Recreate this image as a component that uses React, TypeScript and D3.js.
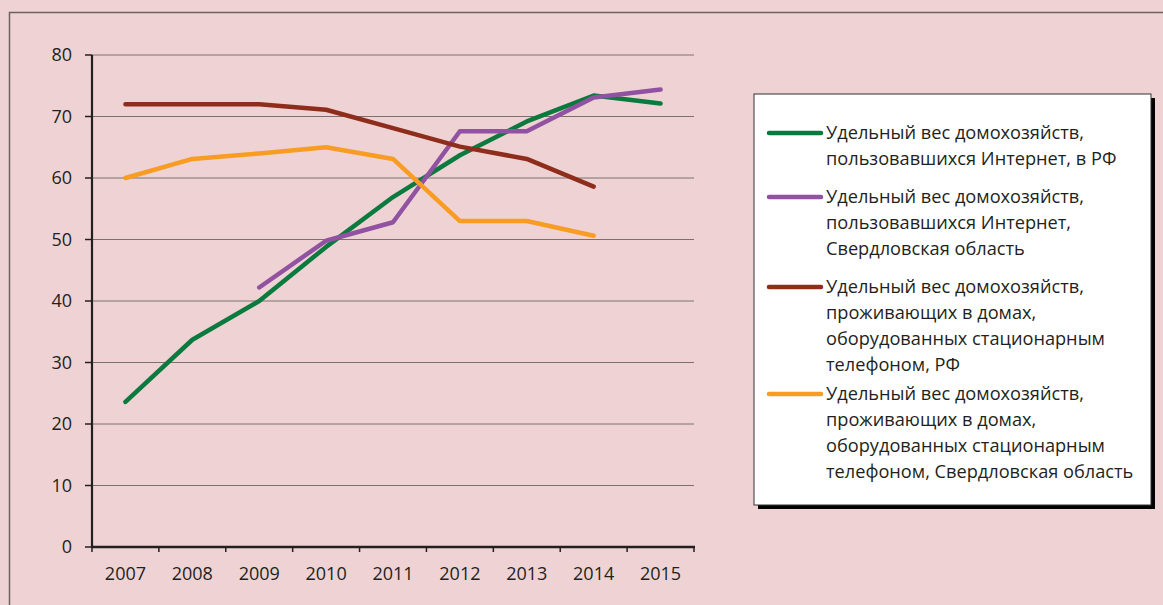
import React from "react";
import * as d3 from "d3";

// years on the x axis
const years = ["2007", "2008", "2009", "2010", "2011", "2012", "2013", "2014", "2015"];
const yTicks = [0, 10, 20, 30, 40, 50, 60, 70, 80];

// values (null = no data)
const internetRF = [23.6, 33.7, 40.0, 48.8, 56.9, 63.7, 69.2, 73.4, 72.1];
const internetSverdl = [null, null, 42.2, 49.8, 52.8, 67.6, 67.6, 73.1, 74.4];
const phoneRF = [72.0, 72.0, 72.0, 71.1, 68.1, 65.1, 63.1, 58.6, null];
const phoneSverdl = [60.0, 63.1, 64.0, 65.0, 63.1, 53.0, 53.0, 50.6, null];

const seriesNames = [
  ["Удельный вес домохозяйств,", "пользовавшихся Интернет, в РФ"],
  ["Удельный вес домохозяйств,", "пользовавшихся Интернет,", "Свердловская область"],
  ["Удельный вес домохозяйств,", "проживающих в домах,", "оборудованных стационарным", "телефоном, РФ"],
  ["Удельный вес домохозяйств,", "проживающих в домах,", "оборудованных стационарным", "телефоном, Свердловская область"],
];
const seriesColors = ["#0b7a3e", "#9152a2", "#8f2d1c", "#f89c24"];
const seriesData = [internetRF, internetSverdl, phoneRF, phoneSverdl];

const FONT = "'Open Sans', sans-serif";

export default function App() {
  const width = 1163;
  const height = 605;

  const x = d3.scaleBand().domain(years).range([92, 694]);
  const y = d3.scaleLinear().domain([0, 80]).range([547, 55]);
  const cx = (yr: string) => (x(yr) as number) + x.bandwidth() / 2;

  const line = d3
    .line<number | null>()
    .defined((d) => d !== null)
    .x((d, i) => cx(years[i]))
    .y((d) => y(d as number));

  const boundaries = years.map((yr) => x(yr) as number).concat([694]);

  // legend layout
  const legX = 754;
  const legY = 94;
  const entryY = [133, 197, 287, 394];
  const lineH = 25.8;

  return (
    <svg width={width} height={height} style={{ position: "absolute", left: 0, top: 0 }}>
      <rect x={0} y={0} width={width} height={height} fill="#efd3d4" />
      <rect x={9.5} y={12.5} width={1170} height={620} fill="none" stroke="#6c6262" strokeWidth={1.5} />

      {/* gridlines */}
      {yTicks.slice(1).map((t) => (
        <line key={t} x1={92} x2={694} y1={y(t)} y2={y(t)} stroke="#7b7070" strokeWidth={1} />
      ))}

      {/* y axis */}
      <line x1={92} x2={92} y1={y(80)} y2={y(0)} stroke="#231f20" strokeWidth={2.2} />
      {yTicks.map((t) => (
        <g key={t}>
          <line x1={85} x2={92} y1={y(t)} y2={y(t)} stroke="#231f20" strokeWidth={1.5} />
          <text x={72} y={y(t)} dy="0.35em" textAnchor="end" fontFamily={FONT} fontSize={18} fill="#231f20">
            {t}
          </text>
        </g>
      ))}

      {/* x axis */}
      <line x1={91} x2={695} y1={y(0)} y2={y(0)} stroke="#231f20" strokeWidth={2.5} />
      {boundaries.map((b, i) => (
        <line key={i} x1={b} x2={b} y1={y(0)} y2={y(0) + 5} stroke="#231f20" strokeWidth={1.5} />
      ))}
      {years.map((yr) => (
        <text key={yr} x={cx(yr)} y={574} dy="0.35em" textAnchor="middle" fontFamily={FONT} fontSize={18} fill="#231f20">
          {yr}
        </text>
      ))}

      {/* series */}
      {seriesData.map((s, i) => (
        <path
          key={i}
          d={line(s) as string}
          fill="none"
          stroke={seriesColors[i]}
          strokeWidth={4.5}
          strokeLinecap="round"
          strokeLinejoin="round"
        />
      ))}

      {/* legend */}
      <rect x={legX + 4} y={legY + 4} width={397} height={411} fill="#000" />
      <rect x={legX} y={legY} width={397} height={411} fill="#fff" stroke="#333" strokeWidth={1} />
      {seriesNames.map((lines, i) => (
        <g key={i}>
          <line x1={769} x2={821} y1={entryY[i]} y2={entryY[i]} stroke={seriesColors[i]} strokeWidth={4.5} strokeLinecap="round" />
          {lines.map((l, j) => (
            <text key={j} x={826} y={entryY[i] + j * lineH} dy="0.35em" fontFamily={FONT} fontSize={18.2} fill="#231f20">
              {l}
            </text>
          ))}
        </g>
      ))}
    </svg>
  );
}
